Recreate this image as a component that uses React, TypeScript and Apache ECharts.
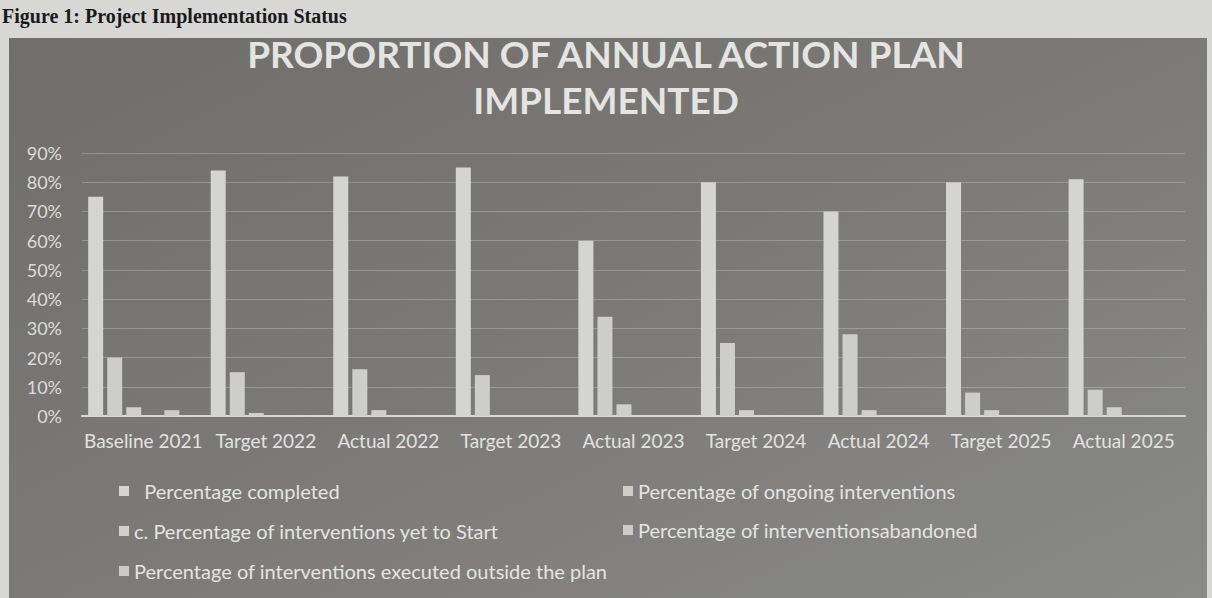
import React, { useEffect, useRef } from "react";
import * as echarts from "echarts";

const categories = [
  "Baseline 2021",
  "Target 2022",
  "Actual 2022",
  "Target 2023",
  "Actual 2023",
  "Target 2024",
  "Actual 2024",
  "Target 2025",
  "Actual 2025",
];

const seriesNames = [
  "Percentage completed",
  "Percentage of ongoing interventions",
  "c. Percentage of interventions yet to Start",
  "Percentage of interventionsabandoned",
  "Percentage of interventions executed outside the plan",
];

const completed = [75, 84, 82, 85, 60, 80, 70, 80, 81];
const ongoing = [20, 15, 16, 14, 34, 25, 28, 8, 9];
const yetToStart = [3, 1, 2, 0, 4, 2, 2, 2, 3];
const abandoned = [0, 0, 0, 0, 0, 0, 0, 0, 0];
const outsidePlan = [2, 0, 0, 0, 0, 0, 0, 0, 0];
const emptySeries = [null, null, null, null, null, null, null, null, null];

const yTicks = [0, 10, 20, 30, 40, 50, 60, 70, 80, 90];

const barColors = ["#d4d4d0", "#cdcdc9", "#cfcfcb", "#cbcbc7", "#cacac6"];

export default function App() {
  const ref = useRef<HTMLDivElement>(null);

  useEffect(() => {
    if (!ref.current) return;
    const chart = echarts.init(ref.current, null, { renderer: "svg" });
    const values = [completed, ongoing, yetToStart, abandoned, outsidePlan];
    const series: any[] = values.map((d, i) => ({
      name: seriesNames[i],
      type: "bar",
      data: d,
      barWidth: 15,
      barGap: "27%",
      itemStyle: { color: barColors[i] },
    }));
    series.push({
      name: "",
      type: "bar",
      data: emptySeries,
      barWidth: 15,
      barGap: "27%",
      itemStyle: { color: "transparent" },
    });

    const legendText = {
      color: "#e4e4e2",
      fontSize: 20,
      fontFamily: "Lato",
      lineHeight: 22,
    };

    chart.setOption({
      animation: false,
      backgroundColor: "#d7d7d5",
      graphic: [
        {
          type: "rect",
          z: -10,
          shape: { x: 9, y: 38, width: 1198, height: 570 },
          style: {
            fill: new echarts.graphic.LinearGradient(0, 0, 1, 1, [
              { offset: 0, color: "#6f6e6b" },
              { offset: 0.5, color: "#7b7a77" },
              { offset: 1, color: "#8a8a88" },
            ]),
          },
        },
        {
          type: "text",
          left: 2,
          top: 6,
          style: {
            text: "Figure 1: Project Implementation Status",
            fill: "#1a1a1a",
            font: "bold 20px 'Liberation Serif'",
          },
        },
      ],
      title: {
        text: "PROPORTION OF ANNUAL ACTION PLAN\nIMPLEMENTED",
        left: "center",
        top: 25,
        textStyle: {
          color: "#e4e4e2",
          fontSize: 37,
          fontWeight: "bold",
          fontFamily: "Lato",
          lineHeight: 46,
        },
      },
      legend: [
        {
          data: [seriesNames[0], seriesNames[2], seriesNames[4]],
          orient: "vertical",
          left: 114,
          top: 475,
          itemWidth: 10,
          itemHeight: 10,
          itemGap: 18,
          icon: "rect",
          formatter: (n: string) => (n === seriesNames[0] ? "  " + n : n),
          textStyle: legendText,
        },
        {
          data: [seriesNames[1], seriesNames[3]],
          orient: "vertical",
          left: 618,
          top: 475,
          itemWidth: 10,
          itemHeight: 10,
          itemGap: 17,
          icon: "rect",
          textStyle: legendText,
        },
      ],
      grid: { left: 82, right: 27, top: 153, bottom: 182 },
      xAxis: {
        type: "category",
        data: categories,
        axisTick: { show: false },
        axisLine: { lineStyle: { color: "#d8d8d6", width: 2 } },
        axisLabel: {
          color: "#e2e2e0",
          fontSize: 19,
          fontFamily: "Lato",
          margin: 15,
          interval: 0,
        },
      },
      yAxis: {
        type: "value",
        min: yTicks[0],
        max: yTicks[yTicks.length - 1],
        interval: 10,
        axisLabel: {
          formatter: "{value}%",
          color: "#dcdcda",
          fontSize: 18,
          fontFamily: "Lato",
          margin: 20,
        },
        splitLine: { lineStyle: { color: "rgba(230,230,228,0.28)", width: 1 } },
        axisLine: { show: false },
        axisTick: { show: false },
      },
      series,
    });
    return () => chart.dispose();
  }, []);

  return (
    <div
      ref={ref}
      style={{ position: "fixed", left: 0, top: 0, width: 1212, height: 598 }}
    />
  );
}
